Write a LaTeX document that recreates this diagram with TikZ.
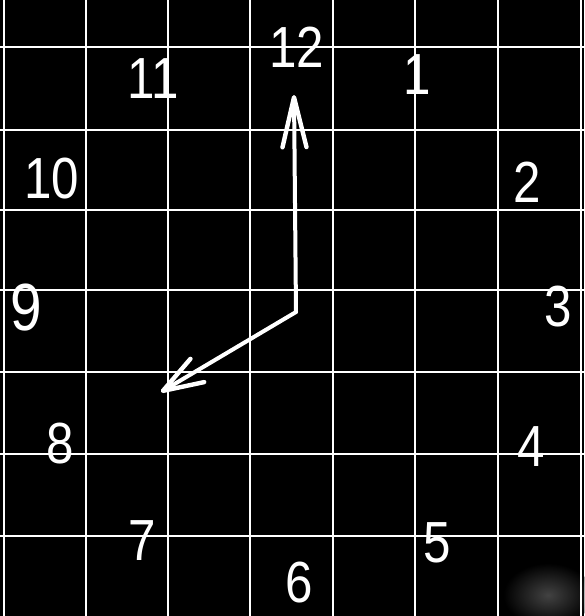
\documentclass[tikz,border=0pt]{standalone}
\usepackage{fontspec}
\setmainfont{Liberation Sans}
\usetikzlibrary{arrows.meta}
\begin{document}
\begin{tikzpicture}[x=1pt,y=-1pt,
  gridline/.style={white, line width=2.8pt},
  hand/.style={white, line width=4pt, line cap=round, line join=round},
  numeral/.style={white, inner sep=0pt, font=\fontsize{58}{58}\selectfont, xscale=0.85, transform shape}]
\fill[black] (0,0) rectangle (584,616);
\useasboundingbox (0,0) rectangle (584,616);
% faint grey smudge, lower right
\shade[inner color=gray!50, outer color=black, opacity=0.35] (548,595) ellipse (45pt and 32pt);
% grid
\foreach \x in {4,86,168,250,333,415,498,581}
  \draw[gridline] (\x,0) -- (\x,616);
\foreach \y in {47,130,210,290,372,454,536}
  \draw[gridline] (0,\y) -- (584,\y);
% numerals
\node[numeral] (n12) at (297,47) {12};
\node[numeral] (n11) at (153,79) {11};
\node[numeral] (n1) at (417,75) {1};
\node[numeral] (n10) at (52,179) {10};
\node[numeral] (n2) at (527,182) {2};
\node[numeral, scale=1.15] (n9) at (26,308) {9};
\node[numeral] (n3) at (558,307) {3};
\node[numeral] (n8) at (60,444) {8};
\node[numeral] (n4) at (531,447) {4};
\node[numeral] (n7) at (142,541) {7};
\node[numeral] (n5) at (437,543) {5};
\node[numeral] (n6) at (299,583) {6};
% hands
\coordinate (c) at (296,312);
\coordinate (m) at (294,95);
\coordinate (h) at (161,392);
\draw[hand, -{Straight Barb[length=50pt, width=24pt, line width=0pt 1.1, round]}] (c) -- (m);
\draw[hand, -{Straight Barb[length=40pt, width=27pt, line width=0pt 1.1, round]}] (c) -- (h);
\end{tikzpicture}
\end{document}
